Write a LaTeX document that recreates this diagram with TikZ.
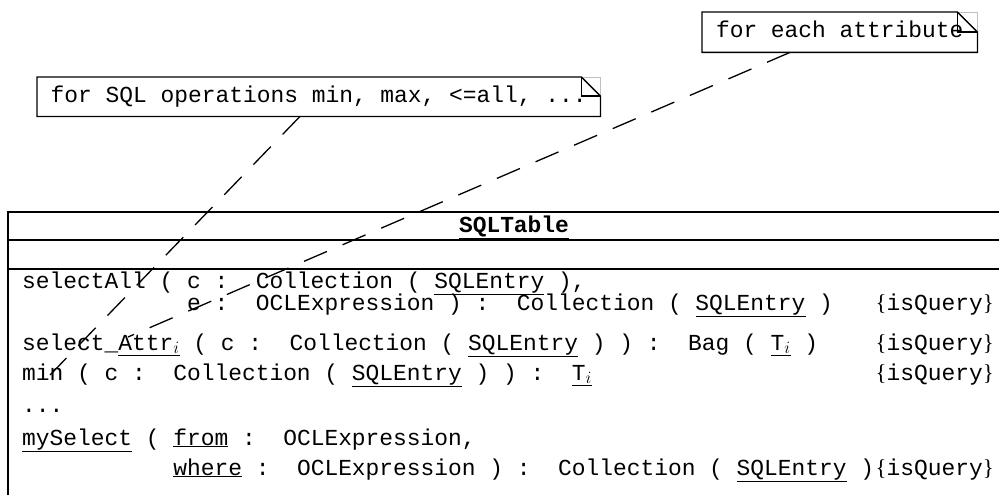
\documentclass[tikz,border=0pt]{standalone}
\usepackage{fontspec}
\setmainfont{Liberation Serif}
\setmonofont{Liberation Mono}
\usetikzlibrary{calc}
\newcommand{\lb}{{\rmfamily\{}}
\newcommand{\rb}{{\rmfamily\}}}
\newcommand{\qry}{\lb isQuery\rb}
\begin{document}
\begin{tikzpicture}[x=1pt,y=-1pt,
  every node/.style={inner sep=0pt},
  mono/.style={font=\ttfamily\fontsize{22.9}{27}\selectfont},
  oprow/.style={mono,anchor=base west},
  tag/.style={mono,anchor=base east},
  frame/.style={line width=1.3pt},
  notebox/.style={mono,anchor=north west,text height=15pt,text depth=4pt},
  fold/.style={line width=1.3pt,line join=miter},
  ghost/.style={line width=0.6pt,black!25},
  link/.style={line width=1.3pt,dash pattern=on 25pt off 17pt}]
\useasboundingbox (0,0) rectangle (999,495);

% class compartment frame
\coordinate (cTL) at (8,212);
\coordinate (cBL) at (8,500);
\draw[frame] (cBL) -- (cTL) -- (1001,212);
\draw[frame] (8,240) -- (1001,240);
\draw[frame] (8,269) -- (1001,269);

\node[mono,anchor=base,font=\ttfamily\bfseries\fontsize{22.9}{27}\selectfont] (cname) at (514,232) {\underline{SQLTable}};

% operations
\node[oprow] (op1) at (22,288) {selectAll~(~c~:~~Collection~(~\underline{SQLEntry}~),};
\node[oprow] (op1b) at (22,310) {~~~~~~~~~~~~e~:~~OCLExpression~)~:~~Collection~(~\underline{SQLEntry}~)};
\node[tag] (q1) at (994,310) {\qry};
\node[oprow] (op2) at (22,350) {select\_\underline{Attr$_i$}~(~c~:~~Collection~(~\underline{SQLEntry}~)~)~:~~Bag~(~\underline{T$_i$}~)};
\node[tag] (q2) at (994,350) {\qry};
\node[oprow] (op3) at (22,380) {min~(~c~:~~Collection~(~\underline{SQLEntry}~)~)~:~~\underline{T$_i$}};
\node[tag] (q3) at (994,380) {\qry};
\node[oprow] (op4) at (22,412) {...};
\node[oprow] (op5) at (22,445) {\underline{mySelect}~(~\underline{from}~:~~OCLExpression,};
\node[oprow] (op5b) at (22,475) {~~~~~~~~~~~\underline{where}~:~~OCLExpression~)~:~~Collection~(~\underline{SQLEntry}~)};
\node[tag] (q5) at (994,475) {\qry};

% notes (text set at natural width, centred in the note body)
\node[notebox,minimum width=275pt,minimum height=40pt] (n1) at (702,12) {for~each~attribute};
\node[notebox,minimum width=563pt,minimum height=39pt] (n2) at (37,77) {for~SQL~operations~min,~max,~<=all,~...};

\foreach \n/\d in {n1/20,n2/19}{
  \draw[ghost] ([xshift=-\d pt]\n.north east) -- (\n.north east) -- ([yshift=-\d pt]\n.north east);
  \draw[fold] (\n.south west) -- (\n.north west) -- ([xshift=-\d pt]\n.north east)
     -- ([yshift=-\d pt]\n.north east) -- (\n.south east) -- cycle;
  \draw[fold] ([xshift=-\d pt]\n.north east) |- ([yshift=-\d pt]\n.north east);
}

% anchor links
\coordinate (attrEnd) at (128,337);
\coordinate (minEnd) at (50,375);
\draw[link] ([xshift=88pt]n1.south west) -- (attrEnd);
\draw[link] ([xshift=263pt]n2.south west) -- (minEnd);
\end{tikzpicture}
\end{document}
